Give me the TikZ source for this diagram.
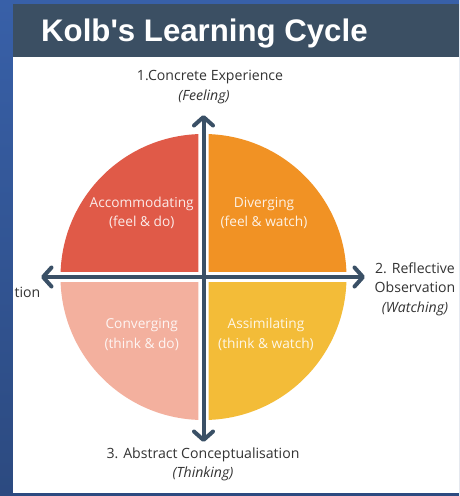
\documentclass[tikz,border=0pt]{standalone}
\usepackage{fontspec}
\setmainfont{Open Sans}
\newfontfamily\titlefont{Liberation Sans}
\usetikzlibrary{arrows.meta}
\definecolor{bgbluetop}{RGB}{56,96,168}
\definecolor{bgbluebot}{RGB}{44,74,128}
\definecolor{header}{RGB}{59,79,99}
\definecolor{axiscol}{RGB}{58,80,102}
\definecolor{labelcol}{RGB}{51,51,51}
\definecolor{qred}{RGB}{224,90,72}
\definecolor{qorange}{RGB}{241,146,36}
\definecolor{qpink}{RGB}{243,176,158}
\definecolor{qyellow}{RGB}{243,188,56}
\tikzset{
  axisline/.style={draw=axiscol, line width=4pt, line cap=round,
    arrows={Straight Barb[length=8.5pt,width=19pt,line cap=round,line join=round]-Straight Barb[length=8.5pt,width=19pt,line cap=round,line join=round]}},
  quadtext/.style={text=white, text opacity=0.88, align=center,
    font=\fontsize{13.7}{19.5}\selectfont, inner sep=0pt},
  labeltext/.style={text=labelcol, align=center,
    font=\fontsize{14.1}{19.5}\selectfont, inner sep=0pt},
}
\begin{document}
\begin{tikzpicture}[x=1pt,y=-1pt]
\useasboundingbox (0,0) rectangle (459,496);
% background
\shade[top color=bgbluetop, bottom color=bgbluebot] (0,0) rectangle (459,496);
\fill[header] (13,4) rectangle (459,57);
\fill[white] (13,57) rectangle (459,493);
\node[anchor=base west, text=white, inner sep=0pt,
  font=\titlefont\bfseries\fontsize{31.2}{36}\selectfont] (title) at (41,41.5) {Kolb's Learning Cycle};
% quadrants
\def\cx{203.5}\def\cy{277}\def\R{143}
\begin{scope}
  \clip (0,0) rectangle (\cx-5.2,\cy-5.2);
  \fill[qred] (\cx,\cy) circle[radius=\R];
\end{scope}
\begin{scope}
  \clip (\cx+5.2,0) rectangle (459,\cy-5.2);
  \fill[qorange] (\cx,\cy) circle[radius=\R];
\end{scope}
\begin{scope}
  \clip (0,\cy+5.2) rectangle (\cx-5.2,496);
  \fill[qpink] (\cx,\cy) circle[radius=\R];
\end{scope}
\begin{scope}
  \clip (\cx+5.2,\cy+5.2) rectangle (459,496);
  \fill[qyellow] (\cx,\cy) circle[radius=\R];
\end{scope}
% axes
\coordinate (top) at (\cx,115);
\coordinate (bottom) at (\cx,442);
\coordinate (left) at (41,\cy);
\coordinate (right) at (365,\cy);
\draw[axisline] (bottom) -- (top);
\draw[axisline] (left) -- (right);
% quadrant texts
\node[quadtext] (accom) at (141.7,213) {Accommodating\\(feel \& do)};
\node[quadtext] (diverg) at (264,213) {Diverging\\(feel \& watch)};
\node[quadtext] (converg) at (141.7,334.5) {Converging\\(think \& do)};
\node[quadtext] (assim) at (266,334.5) {Assimilating\\(think \& watch)};
% labels
\node[labeltext] (ce) at (210,77) {1.Concrete Experience};
\node[labeltext] (feel) at (204,97) {\itshape (Feeling)};
\node[labeltext] (ro) at (415,289) {2. Reflective\\Observation\\\itshape (Watching)};
\node[labeltext] (ac) at (203,464.5) {3. Abstract Conceptualisation\\\itshape (Thinking)};
\node[labeltext, anchor=east] (ae) at (40.5,292) {tion};
\end{tikzpicture}
\end{document}
